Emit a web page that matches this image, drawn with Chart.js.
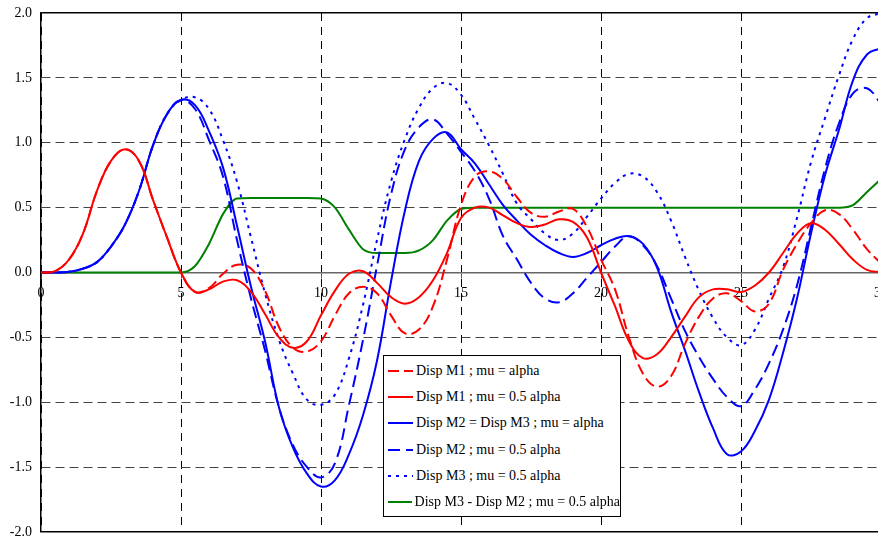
<!DOCTYPE html>
<html>
<head>
  <meta charset="utf-8">
  <script src="https://cdn.jsdelivr.net/npm/chart.js"></script>
  <style>
    body { margin: 0; background: #fff; overflow: hidden; }
    #wrap { position: relative; width: 878px; height: 538px; overflow: hidden; }
    #chart { position: absolute; left: 0; top: -3px; }
    #legend {
      position: absolute; left: 383px; top: 355px; width: 236px; height: 158px;
      border: 1px solid #000; background: #fff;
      font-family: "Liberation Serif", "Times New Roman", serif; font-size: 14px; color: #000;
      box-sizing: content-box; padding-top: 2px;
    }
    .row { display: flex; align-items: center; height: 26.2px; padding-left: 4px; white-space: nowrap; }
    .row svg { margin-right: 3px; }
  </style>
</head>
<body>
  <div id="wrap">
    <canvas id="chart" width="897" height="551"></canvas>
    <div id="legend"></div>
  </div>

  <script>
    // x positions of the samples
    const xs = [0, 0.5, 1, 1.5, 2, 2.5, 3, 3.5, 4, 4.5,
      5, 5.5, 6, 6.5, 7, 7.5, 8, 8.5, 9, 9.5,
      10, 10.5, 11, 11.5, 12, 12.5, 13, 13.5, 14, 14.5,
      15, 15.5, 16, 16.5, 17, 17.5, 18, 18.5, 19, 19.5,
      20, 20.5, 21, 21.5, 22, 22.5, 23, 23.5, 24, 24.5,
      25, 25.5, 26, 26.5, 27, 27.5, 28, 28.5, 29, 29.5,
      30];

    // Disp M1 ; mu = alpha  (red dashed)
    const m1Alpha = [0, 0.01, 0.1, 0.3, 0.63, 0.86, 0.95, 0.86, 0.56, 0.27,
      0, -0.15, -0.12, -0.01, 0.06, 0.03, -0.14, -0.42, -0.58, -0.61,
      -0.53, -0.33, -0.16, -0.11, -0.16, -0.33, -0.47, -0.44, -0.26, 0.1,
      0.52, 0.74, 0.78, 0.72, 0.58, 0.46, 0.43, 0.47, 0.49, 0.35,
      0.1, -0.13, -0.5, -0.78, -0.88, -0.8, -0.55, -0.34, -0.2, -0.16,
      -0.22, -0.3, -0.24, 0.02, 0.22, 0.38, 0.48, 0.45, 0.33, 0.18,
      0.07];

    // Disp M1 ; mu = 0.5 alpha  (red solid)
    const m1Half = [0, 0.01, 0.1, 0.3, 0.63, 0.86, 0.95, 0.86, 0.56, 0.27,
      0, -0.15, -0.13, -0.07, -0.06, -0.15, -0.32, -0.5, -0.58, -0.53,
      -0.33, -0.14, -0.01, 0.01, -0.08, -0.19, -0.24, -0.19, -0.06, 0.15,
      0.42, 0.5, 0.5, 0.44, 0.38, 0.35, 0.37, 0.41, 0.39, 0.27,
      0, -0.26, -0.53, -0.66, -0.63, -0.5, -0.34, -0.19, -0.13, -0.13,
      -0.15, -0.1, 0, 0.15, 0.3, 0.38, 0.33, 0.22, 0.1, 0.02,
      0];

    // Disp M2 = Disp M3 ; mu = alpha  (blue solid)
    const m2m3Alpha = [0, 0, 0.005, 0.03, 0.08, 0.2, 0.37, 0.63, 0.98, 1.22,
      1.33, 1.29, 1.09, 0.81, 0.36, -0.11, -0.53, -1.04, -1.35, -1.55,
      -1.65, -1.6, -1.4, -1.1, -0.68, -0.07, 0.48, 0.86, 1.03, 1.08,
      0.95, 0.84, 0.68, 0.52, 0.4, 0.29, 0.21, 0.15, 0.12, 0.15,
      0.21, 0.26, 0.28, 0.22, 0.04, -0.3, -0.6, -0.92, -1.2, -1.4,
      -1.38, -1.22, -0.98, -0.62, -0.2, 0.3, 0.75, 1.1, 1.48, 1.68,
      1.73];

    // Disp M2 ; mu = 0.5 alpha  (blue dashed)
    const m2Half = [0, 0, 0.005, 0.03, 0.08, 0.2, 0.37, 0.63, 0.98, 1.22,
      1.33, 1.26, 1.02, 0.74, 0.25, -0.2, -0.6, -1.04, -1.33, -1.5,
      -1.58, -1.47, -1.02, -0.52, 0.05, 0.6, 0.95, 1.12, 1.18, 1.07,
      0.93, 0.78, 0.57, 0.28, 0.1, -0.08, -0.2, -0.23, -0.16, -0.04,
      0.08, 0.2, 0.28, 0.21, 0.05, -0.2, -0.45, -0.65, -0.82, -0.96,
      -1.03, -0.9, -0.7, -0.44, -0.1, 0.35, 0.8, 1.15, 1.38, 1.42,
      1.3];

    // Disp M3 ; mu = 0.5 alpha  (blue dotted)
    const m3Half = [0, 0, 0.005, 0.03, 0.08, 0.2, 0.37, 0.63, 0.98, 1.22,
      1.33, 1.35, 1.26, 1.02, 0.7, 0.27, -0.16, -0.52, -0.78, -0.98,
      -1.02, -0.94, -0.66, -0.25, 0.25, 0.7, 1.03, 1.27, 1.42, 1.46,
      1.37, 1.18, 0.98, 0.76, 0.53, 0.41, 0.3, 0.25, 0.3, 0.43,
      0.57, 0.69, 0.76, 0.74, 0.62, 0.4, 0.12, -0.14, -0.35, -0.5,
      -0.56, -0.44, -0.2, 0.04, 0.42, 0.85, 1.19, 1.52, 1.8, 1.96,
      2.0];

    // Disp M3 - Disp M2 ; mu = 0.5 alpha  (green)
    const diffHalf = [0, 0, 0, 0, 0, 0, 0, 0, 0, 0,
      0, 0.05, 0.22, 0.45, 0.57, 0.575, 0.575, 0.575, 0.575, 0.575,
      0.57, 0.5, 0.33, 0.18, 0.15, 0.15, 0.15, 0.17, 0.25, 0.4,
      0.49, 0.5, 0.5, 0.5, 0.5, 0.5, 0.5, 0.5, 0.5, 0.5,
      0.5, 0.5, 0.5, 0.5, 0.5, 0.5, 0.5, 0.5, 0.5, 0.5,
      0.5, 0.5, 0.5, 0.5, 0.5, 0.5, 0.5, 0.5, 0.52, 0.62,
      0.72];

    const yTicks = [-2, -1.5, -1, -0.5, 0, 0.5, 1, 1.5, 2];

    const series = [
      { label: 'Disp M1 ; mu = alpha', data: m1Alpha, color: '#ff0000', dash: [11, 5], smooth: 'default' },
      { label: 'Disp M1 ; mu = 0.5 alpha', data: m1Half, color: '#ff0000', dash: [], smooth: 'default' },
      { label: 'Disp M2 = Disp M3 ; mu = alpha', data: m2m3Alpha, color: '#0000ff', dash: [], smooth: 'default' },
      { label: 'Disp M2 ; mu = 0.5 alpha', data: m2Half, color: '#0000ff', dash: [12, 6], smooth: 'default' },
      { label: 'Disp M3 ; mu = 0.5 alpha', data: m3Half, color: '#0000ff', dash: [3, 5], smooth: 'default' },
      { label: 'Disp M3 - Disp M2 ; mu = 0.5 alpha', data: diffHalf, color: '#008000', dash: [], smooth: 'monotone' }
    ];

    const serif = '"Liberation Serif", "Times New Roman", serif';

    new Chart(document.getElementById('chart'), {
      type: 'line',
      data: {
        datasets: series.map(s => ({
          label: s.label,
          data: xs.map((x, i) => ({ x: x, y: s.data[i] })),
          borderColor: s.color,
          borderDash: s.dash,
          borderWidth: 2,
          pointRadius: 0,
          fill: false,
          tension: 0.4,
          cubicInterpolationMode: s.smooth
        }))
      },
      options: {
        responsive: false,
        animation: false,
        layout: { padding: { left: 0, right: 9, top: 9, bottom: 7 } },
        plugins: { legend: { display: false }, tooltip: { enabled: false } },
        scales: {
          x: {
            type: 'linear',
            min: 0, max: 30,
            position: { y: 0 },
            ticks: {
              stepSize: 5,
              color: '#000',
              padding: 9,
              maxRotation: 0,
              font: { family: serif, size: 14, lineHeight: 1 }
            },
            grid: { color: '#000', lineWidth: 1, tickLength: 5, tickColor: '#555' },
            border: { color: '#666', width: 1.5, dash: c => c.type === 'tick' ? [8, 6] : [] }
          },
          y: {
            min: -2, max: 2,
            afterBuildTicks: s => { s.ticks = yTicks.map(v => ({ value: v })); },
            afterFit: s => { s.width = 41; },
            ticks: {
              color: '#000',
              padding: 9,
              font: { family: serif, size: 14, lineHeight: 1 },
              callback: v => v.toFixed(1)
            },
            grid: {
              drawTicks: false,
              lineWidth: c => (c.tick && Math.abs(c.tick.value) === 2) ? 1.5 : 1,
              color: c => (c.tick && Math.abs(c.tick.value) === 2) ? '#000' : '#444'
            },
            border: {
              color: '#000', width: 1.5,
              dash: c => (c.type === 'tick' && Math.abs(c.tick.value) !== 2) ? [9, 5] : []
            }
          }
        }
      }
    });

    // legend box, drawn as html on top of the plot
    const legend = document.getElementById('legend');
    series.forEach(s => {
      const row = document.createElement('div');
      row.className = 'row';
      row.innerHTML = '<svg width="25" height="6"><line x1="0" y1="3" x2="25" y2="3" stroke="' + s.color +
        '" stroke-width="2" stroke-dasharray="' + (s.dash.length ? s.dash.join(' ') : 'none') + '"/></svg>' +
        '<span>' + s.label + '</span>';
      legend.appendChild(row);
    });
  </script>
</body>
</html>
